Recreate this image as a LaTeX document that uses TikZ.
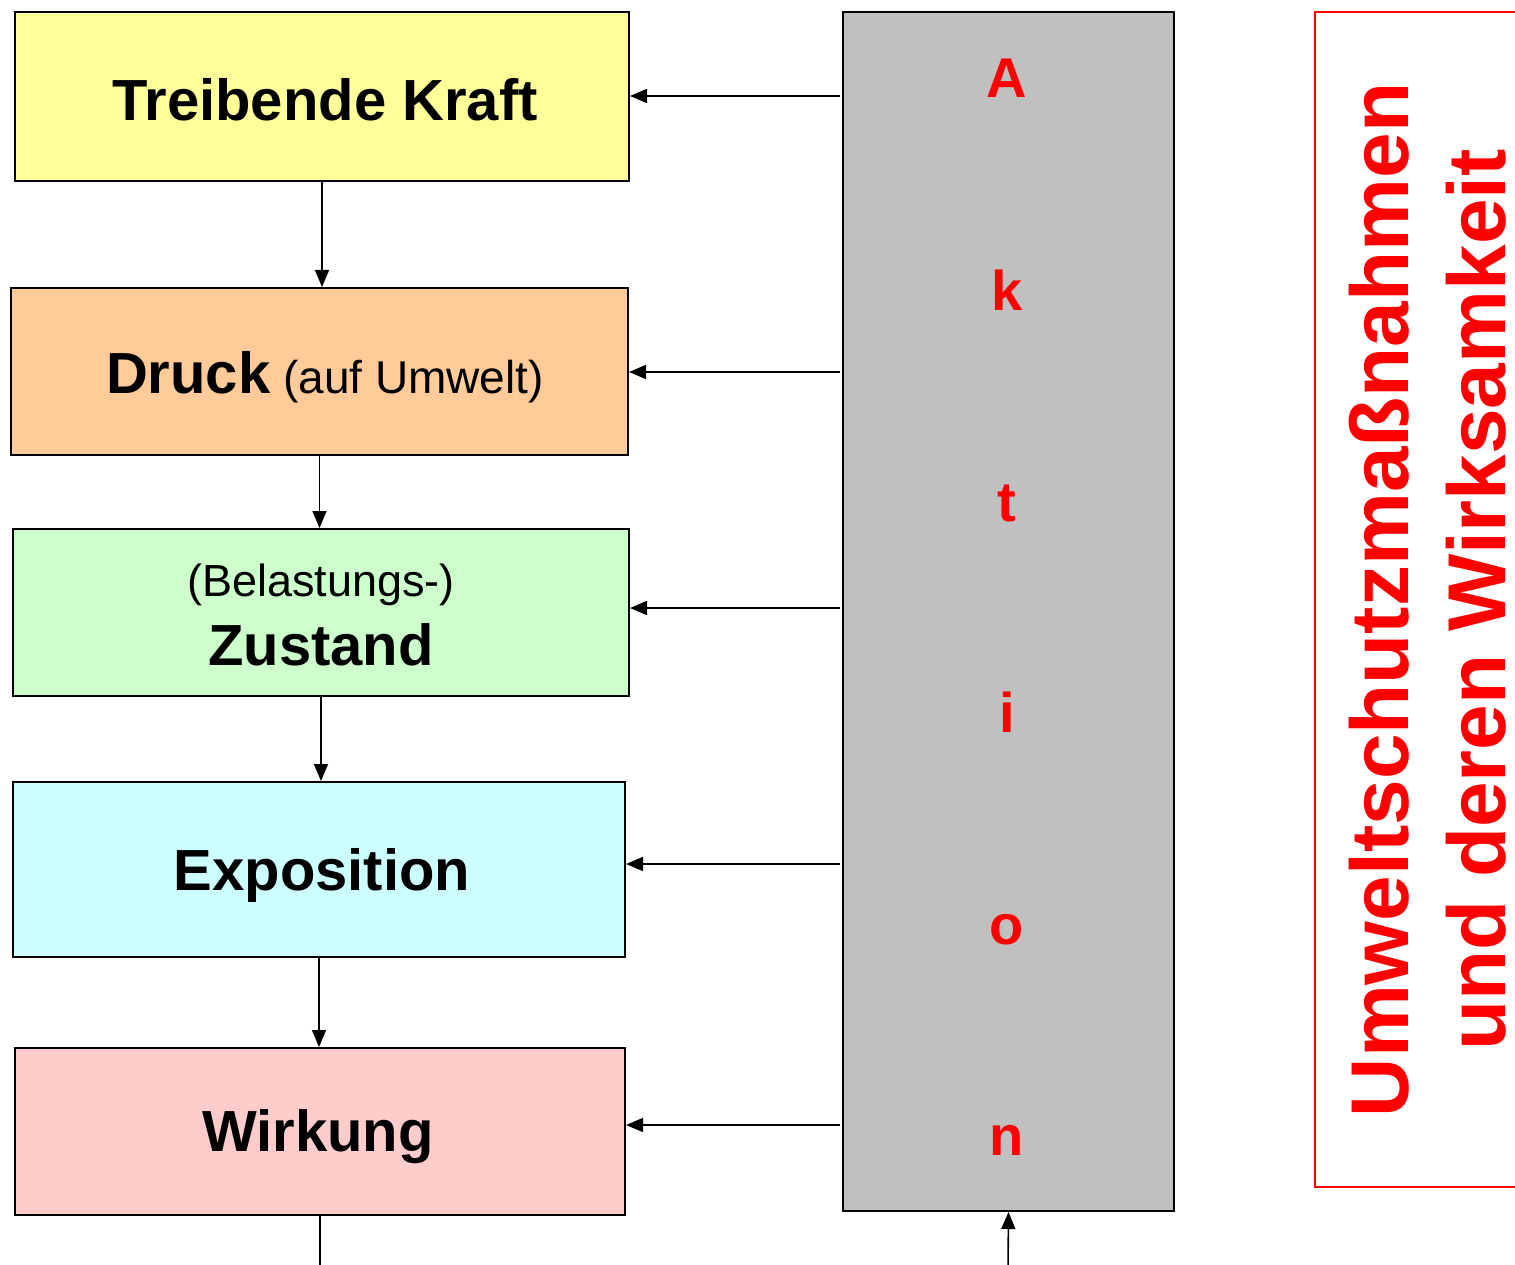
\documentclass[tikz,border=0pt]{standalone}
\usepackage{fontspec}
\setmainfont{Liberation Sans}
\usetikzlibrary{arrows.meta}
\definecolor{cyellow}{HTML}{FFFF99}
\definecolor{corange}{HTML}{FFCC99}
\definecolor{cgreen}{HTML}{CCFFCC}
\definecolor{ccyan}{HTML}{CCFFFF}
\definecolor{cpink}{HTML}{FFCCCC}
\definecolor{cgray}{HTML}{C0C0C0}
\definecolor{cred}{HTML}{FF0000}
\tikzset{
  stagebox/.style={draw=black, line width=2pt, rectangle, inner sep=0pt, align=center},
  flow/.style={-{Triangle[length=17pt,width=14pt]}, line width=1.6pt},
  bigbold/.style={font=\fontsize{58}{66}\selectfont\bfseries},
  letter/.style={text=cred, font=\fontsize{56}{60}\selectfont\bfseries, inner sep=0pt},
  sideline/.style={rotate=90, anchor=base, text=cred, inner sep=0pt, text depth=0pt,
    font=\fontsize{82}{96}\selectfont\bfseries}
}
\begin{document}
\begin{tikzpicture}[x=1pt,y=-1pt]
\useasboundingbox (0,0) rectangle (1515,1265);
% DPSIR stages
\node[stagebox, fill=cyellow, minimum width=614pt, minimum height=169pt] (b1) at (322,96.5) {};
\node[stagebox, fill=corange, minimum width=617pt, minimum height=167pt] (b2) at (319.5,371.5) {};
\node[stagebox, fill=cgreen, minimum width=616pt, minimum height=167pt] (b3) at (321,612.5) {};
\node[stagebox, fill=ccyan, minimum width=612pt, minimum height=175pt] (b4) at (319,869.5) {};
\node[stagebox, fill=cpink, minimum width=610pt, minimum height=167pt] (b5) at (320,1131.5) {};
% stage labels
\node[bigbold, anchor=base] (t1) at (325,121) {Treibende Kraft};
\node[anchor=base, inner sep=0pt] (t2) at (325,393) {{\fontsize{58}{66}\selectfont\bfseries Druck}{\fontsize{46}{52}\selectfont\ (auf Umwelt)}};
\node[anchor=base, inner sep=0pt, font=\fontsize{45}{50}\selectfont] (t3a) at (321,596) {(Belastungs-)};
\node[bigbold, anchor=base, inner sep=0pt] (t3b) at (321,665) {Zustand};
\node[bigbold, anchor=base, inner sep=0pt] (t4) at (322,890) {Exposition};
\node[bigbold, anchor=base, inner sep=0pt] (t5) at (318,1151) {Wirkung};
% action column
\node[stagebox, fill=cgray, minimum width=331pt, minimum height=1199pt] (act) at (1008.5,611.5) {};
\node[letter, anchor=base] (la) at (1007,98) {A};
\node[letter, anchor=base] (lk) at (1007,310) {k};
\node[letter, anchor=base] (lt) at (1007,521) {t};
\node[letter, anchor=base] (li) at (1007,732) {i};
\node[letter, anchor=base] (lo) at (1007,944) {o};
\node[letter, anchor=base] (ln) at (1007,1155) {n};
% measures box
\draw[cred, line width=2pt] (1525,12) -- (1315,12) -- (1315,1187) -- (1525,1187);
\node[sideline] (meas1) at (1408,600) {Umweltschutzmaßnahmen};
\node[sideline] (meas2) at (1505,600) {und deren Wirksamkeit};
% causal chain
\draw[flow] (b1.south) -- (b1.south |- b2.north);
\draw[flow] (b2.south) -- (b2.south |- b3.north);
\draw[flow] (b3.south) -- (b3.south |- b4.north);
\draw[flow] (b4.south) -- (b4.south |- b5.north);
\coordinate (out5) at (320,1270);
\draw[line width=1.6pt] (b5.south) -- (out5);
% actions acting on each stage
\coordinate (a1) at (840,96);
\coordinate (a2) at (840,372);
\coordinate (a3) at (840,608);
\coordinate (a4) at (840,864);
\coordinate (a5) at (840,1125);
\draw[flow] (a1) -- (b1.east |- a1);
\draw[flow] (a2) -- (b2.east |- a2);
\draw[flow] (a3) -- (b3.east |- a3);
\draw[flow] (a4) -- (b4.east |- a4);
\draw[flow] (a5) -- (b5.east |- a5);
\coordinate (ain) at (1008,1270);
\draw[flow] (ain) -- (act.south);
\end{tikzpicture}
\end{document}
